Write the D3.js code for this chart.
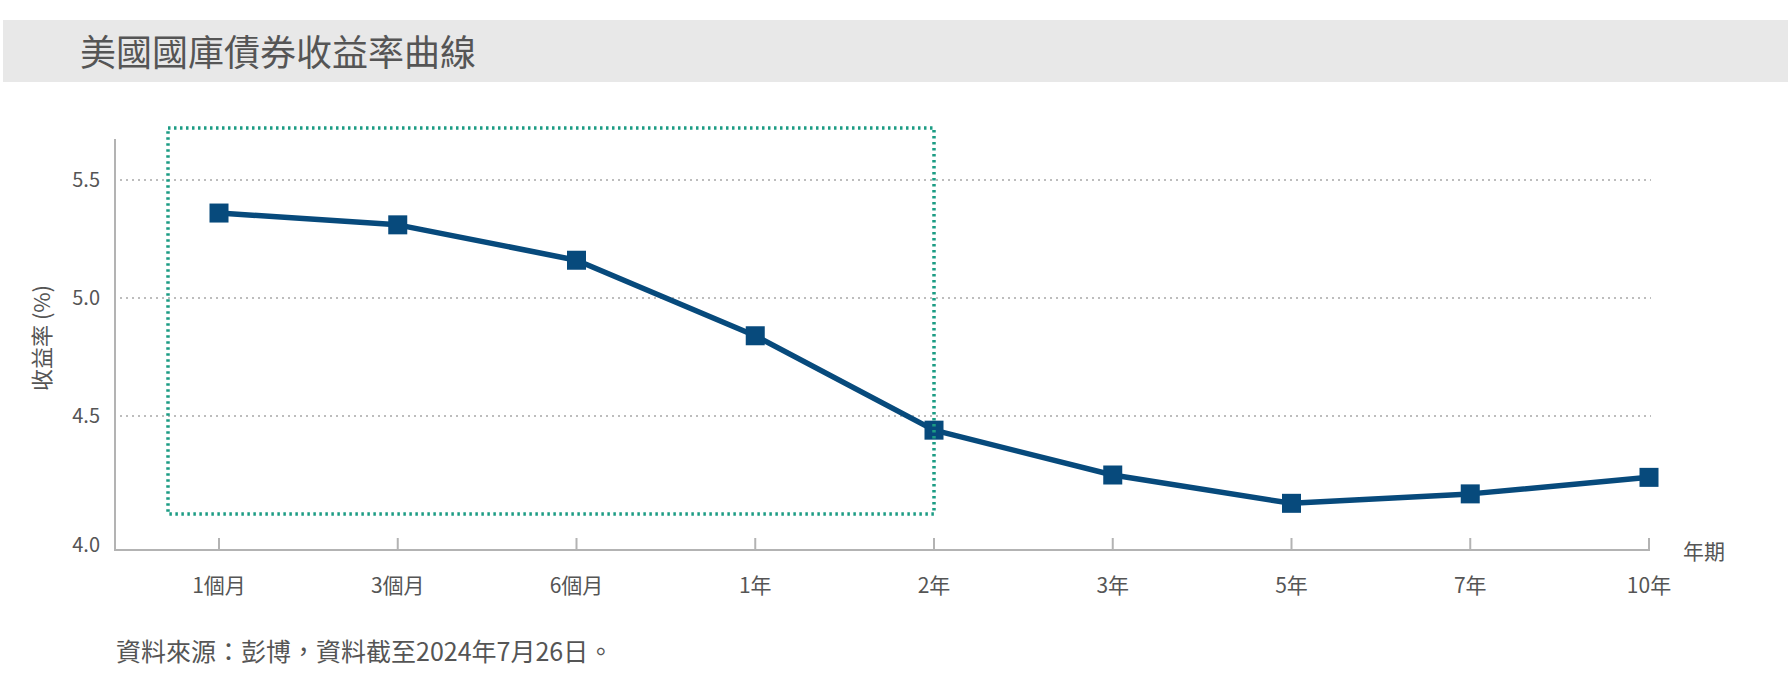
<!DOCTYPE html>
<html>
<head>
<meta charset="utf-8">
<script src="https://cdn.jsdelivr.net/npm/d3@7"></script>
<style>
  html, body { margin: 0; padding: 0; background: #fff; }
  svg { display: block; font-family: "Noto Sans CJK TC", "Noto Sans", sans-serif; }
</style>
</head>
<body>
<svg id="chart" width="1788" height="691"></svg>
<script>
// ---- data ----
const titleText = "美國國庫債券收益率曲線";
const categories = ["1個月", "3個月", "6個月", "1年", "2年", "3年", "5年", "7年", "10年"];
const yields = [5.36, 5.31, 5.16, 4.84, 4.44, 4.25, 4.13, 4.17, 4.24];
const yTicks = [4.0, 4.5, 5.0, 5.5];
const yTickLabels = ["4.0", "4.5", "5.0", "5.5"];
const gridValues = [4.5, 5.0, 5.5];
const highlightCats = ["1個月", "2年"];
const highlightRange = [4.085, 5.72];
const yAxisTitle = "收益率 (%)";
const xAxisTitle = "年期";
const sourceText = "資料來源：彭博，資料截至2024年7月26日。";

// ---- layout ----
const svg = d3.select("#chart");
const axisX0 = 115, axisY = 550, axisTop = 139;
const x = d3.scalePoint().domain(categories).range([219, 1649]);
const y = d3.scaleLinear().domain([4.0, 5.5]).range([534, 180]);
const textColor = "#555555";
const axisColor = "#b3b3b3";
const lineColor = "#074a7c";
const teal = "#1c9c84";

// title band
svg.append("rect").attr("x", 3).attr("y", 20).attr("width", 1785).attr("height", 62).attr("fill", "#e8e8e8");
svg.append("text").attr("x", 80).attr("y", 53).attr("dy", "0.35em")
  .attr("font-size", 36).attr("fill", textColor).text(titleText);

// gridlines
svg.append("g").selectAll("line").data(gridValues).join("line")
  .attr("x1", 120).attr("x2", 1651)
  .attr("y1", d => y(d)).attr("y2", d => y(d))
  .attr("stroke", "#bdbdbd").attr("stroke-width", 2).attr("stroke-dasharray", "2,4");

// axes
svg.append("line").attr("x1", axisX0).attr("x2", axisX0).attr("y1", axisTop).attr("y2", axisY + 1)
  .attr("stroke", axisColor).attr("stroke-width", 2);
svg.append("line").attr("x1", axisX0).attr("x2", x(categories[categories.length - 1]) + 1).attr("y1", axisY).attr("y2", axisY)
  .attr("stroke", axisColor).attr("stroke-width", 2);
svg.append("g").selectAll("line").data(categories).join("line")
  .attr("x1", d => x(d)).attr("x2", d => x(d)).attr("y1", axisY).attr("y2", axisY - 12)
  .attr("stroke", axisColor).attr("stroke-width", 2);

// y tick labels
svg.append("g").selectAll("text").data(yTicks).join("text")
  .attr("x", 100)
  .attr("y", (d, i) => i === 0 ? axisY - 5 : y(d))
  .attr("dy", "0.35em").attr("text-anchor", "end")
  .attr("font-size", 20).attr("fill", textColor)
  .text((d, i) => yTickLabels[i]);

// x tick labels
svg.append("g").selectAll("text").data(categories).join("text")
  .attr("x", d => x(d)).attr("y", 586).attr("dy", "0.35em").attr("text-anchor", "middle")
  .attr("font-size", 21).attr("fill", textColor).text(d => d);

// axis titles
svg.append("text").attr("transform", "translate(42,338) rotate(-90)")
  .attr("text-anchor", "middle").attr("dy", "0.35em")
  .attr("font-size", 22).attr("fill", textColor).text(yAxisTitle);
svg.append("text").attr("x", 1683).attr("y", 552).attr("dy", "0.35em")
  .attr("font-size", 21).attr("fill", textColor).text(xAxisTitle);

// line
const pts = categories.map((c, i) => [x(c), y(yields[i])]);
svg.append("path").attr("d", d3.line()(pts))
  .attr("fill", "none").attr("stroke", lineColor).attr("stroke-width", 5.5).attr("stroke-linejoin", "round");
const ms = 19;
svg.append("g").selectAll("rect").data(pts).join("rect")
  .attr("x", d => d[0] - ms / 2).attr("y", d => d[1] - ms / 2)
  .attr("width", ms).attr("height", ms).attr("fill", lineColor);

// highlight box
const bx0 = x(highlightCats[0]) - 51, bx1 = x(highlightCats[1]);
const by0 = y(highlightRange[1]), by1 = y(highlightRange[0]);
svg.append("rect").attr("x", bx0).attr("y", by0).attr("width", bx1 - bx0).attr("height", by1 - by0)
  .attr("fill", "none").attr("stroke", teal).attr("stroke-width", 3.5).attr("stroke-dasharray", "2.5,3.5");

// source
svg.append("text").attr("x", 116).attr("y", 652).attr("dy", "0.35em")
  .attr("font-size", 25).attr("fill", textColor).text(sourceText);
</script>
</body>
</html>
